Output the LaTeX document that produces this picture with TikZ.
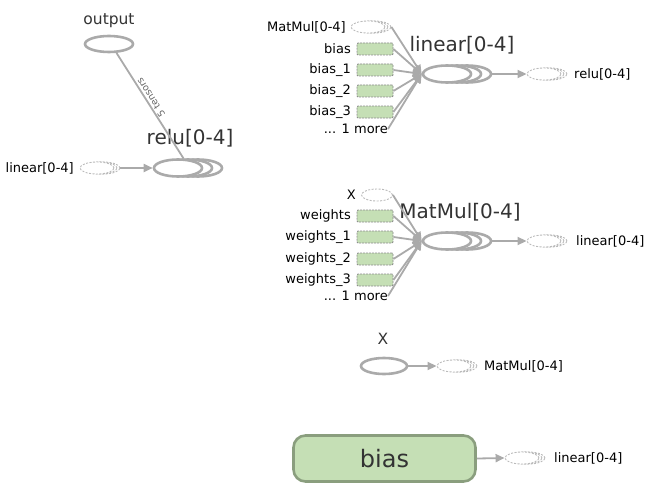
\documentclass[tikz,border=0pt]{standalone}
\usepackage{fontspec}
\setmainfont{DejaVu Sans}
\usetikzlibrary{shapes.geometric,arrows.meta}
\definecolor{edgegray}{HTML}{AAAAAA}
\definecolor{refgray}{HTML}{BBBBBB}
\definecolor{vargreen}{HTML}{C5DFB5}
\definecolor{varborder}{HTML}{8A9E7E}
\definecolor{boxborder}{HTML}{8C8C8C}
\definecolor{txt}{HTML}{333333}
\tikzset{
 opnode/.style={ellipse, draw=edgegray, line width=2.6pt, fill=white, minimum width=48pt, minimum height=17pt, inner sep=0pt},
 refnode/.style={ellipse, draw=refgray, dash pattern=on 2pt off 1.5pt, line width=0.9pt, fill=white, minimum width=34pt, minimum height=12pt, inner sep=0pt},
 varbox/.style={rectangle, draw=boxborder, dash pattern=on 2pt off 1pt, line width=0.8pt, fill=vargreen, minimum width=36pt, minimum height=12pt, inner sep=0pt, rounded corners=1pt},
 bigvar/.style={rectangle, rounded corners=12pt, draw=varborder, line width=2.6pt, fill=vargreen, minimum width=182pt, minimum height=46pt, inner sep=0pt, font=\fontsize{24}{28}\selectfont, text=txt},
 lbl/.style={font=\fontsize{13}{15}\selectfont, text=black, inner sep=0pt},
 ttl/.style={font=\fontsize{20}{24}\selectfont, text=txt, inner sep=0pt},
 smallttl/.style={font=\fontsize{15.5}{18}\selectfont, text=txt, inner sep=0pt},
 edge/.style={draw=edgegray, line width=1.8pt, -{Triangle[length=9pt,width=8pt]}},
 edgeplain/.style={draw=edgegray, line width=1.8pt},
}
\newcommand{\opseries}[2]{%
 \node[opnode, xshift=20pt] (#1c) at (#2) {};
 \node[opnode, xshift=10pt] (#1b) at (#2) {};
 \node[opnode] (#1) at (#2) {};}
\newcommand{\refseries}[2]{%
 \node[refnode, xshift=6pt] (#1c) at (#2) {};
 \node[refnode, xshift=3pt] (#1b) at (#2) {};
 \node[refnode] (#1) at (#2) {};}
\begin{document}
\begin{tikzpicture}[x=1pt,y=-1pt]
\useasboundingbox (0,0) rectangle (668,500);

% ---- left: output / relu
\node[opnode, minimum width=48pt, minimum height=16pt] (output) at (109,44) {};
\node[smallttl] (outputlbl) at (109,21) {output};
\opseries{relu}{178,168}
\node[ttl] (relulbl) at (190,138) {relu[0-4]};
\refseries{linref}{97,168}
\node[lbl, anchor=east] (linreflbl) at (74,168) {linear[0-4]};
\draw[edge] (linrefc.east) -- (relu.west);
\draw[edgeplain] (output.-50) -- node[pos=0.45, rotate=122.4, anchor=north, font=\fontsize{9.5}{10}\selectfont, text=gray!80!black, inner sep=0.5pt] (tlabel) {5 tensors} (relu.60);

% ---- linear[0-4]
\refseries{mmref}{368,27}
\node[lbl, anchor=east] (mmreflbl) at (346,27) {MatMul[0-4]};
\node[varbox] (b0) at (375,49) {};
\node[varbox] (b1) at (375,70) {};
\node[varbox] (b2) at (375,91) {};
\node[varbox] (b3) at (375,112) {};
\node[lbl, anchor=east] (b0l) at (351,49) {bias};
\node[lbl, anchor=east] (b1l) at (351,70) {bias\_1};
\node[lbl, anchor=east] (b2l) at (351,91) {bias\_2};
\node[lbl, anchor=east] (b3l) at (351,112) {bias\_3};
\node[lbl, anchor=east] (bmore) at (388,129) {... 1 more};
\opseries{lin}{447,74}
\node[ttl] (linlbl) at (462,45) {linear[0-4]};
\refseries{reluref}{544,74}
\node[lbl, anchor=west] (relureflbl) at (574,74) {relu[0-4]};
\foreach \s in {mmrefc,b0,b1,b2,b3,bmore}{\draw[edge] (\s.east) -- (lin.west);}
\draw[edge] (linc.east) -- (reluref.west);

% ---- MatMul[0-4]
\node[refnode, minimum width=31pt] (xref) at (377,195) {};
\node[lbl, anchor=east] (xrefl) at (356,195) {X};
\node[varbox] (w0) at (375,216) {};
\node[varbox] (w1) at (375,237) {};
\node[varbox] (w2) at (375,259) {};
\node[varbox] (w3) at (375,280) {};
\node[lbl, anchor=east] (w0l) at (351,216) {weights};
\node[lbl, anchor=east] (w1l) at (351,237) {weights\_1};
\node[lbl, anchor=east] (w2l) at (351,259) {weights\_2};
\node[lbl, anchor=east] (w3l) at (351,280) {weights\_3};
\node[lbl, anchor=east] (wmore) at (388,296) {... 1 more};
\opseries{mm}{447,241}
\node[ttl] (mmlbl) at (460,212) {MatMul[0-4]};
\refseries{linrefb}{544,241}
\node[lbl, anchor=west] (linrefbl) at (576,241) {linear[0-4]};
\foreach \s in {xref,w0,w1,w2,w3,wmore}{\draw[edge] (\s.east) -- (mm.west);}
\draw[edge] (mmc.east) -- (linrefb.west);

% ---- X
\node[opnode, minimum width=46pt, minimum height=16pt] (x) at (384,366) {};
\node[smallttl] (xlbl) at (383,339) {X};
\refseries{mmrefb}{454,366}
\node[lbl, anchor=west] (mmrefbl) at (484,366) {MatMul[0-4]};
\draw[edge] (x.east) -- (mmrefb.west);

% ---- bias
\node[bigvar] (bias) at (384.5,458.5) {bias};
\refseries{linrefc}{522,458}
\node[lbl, anchor=west] (linrefcl) at (554,458) {linear[0-4]};
\draw[edge] (bias.east) -- (linrefc.west);
\end{tikzpicture}
\end{document}
